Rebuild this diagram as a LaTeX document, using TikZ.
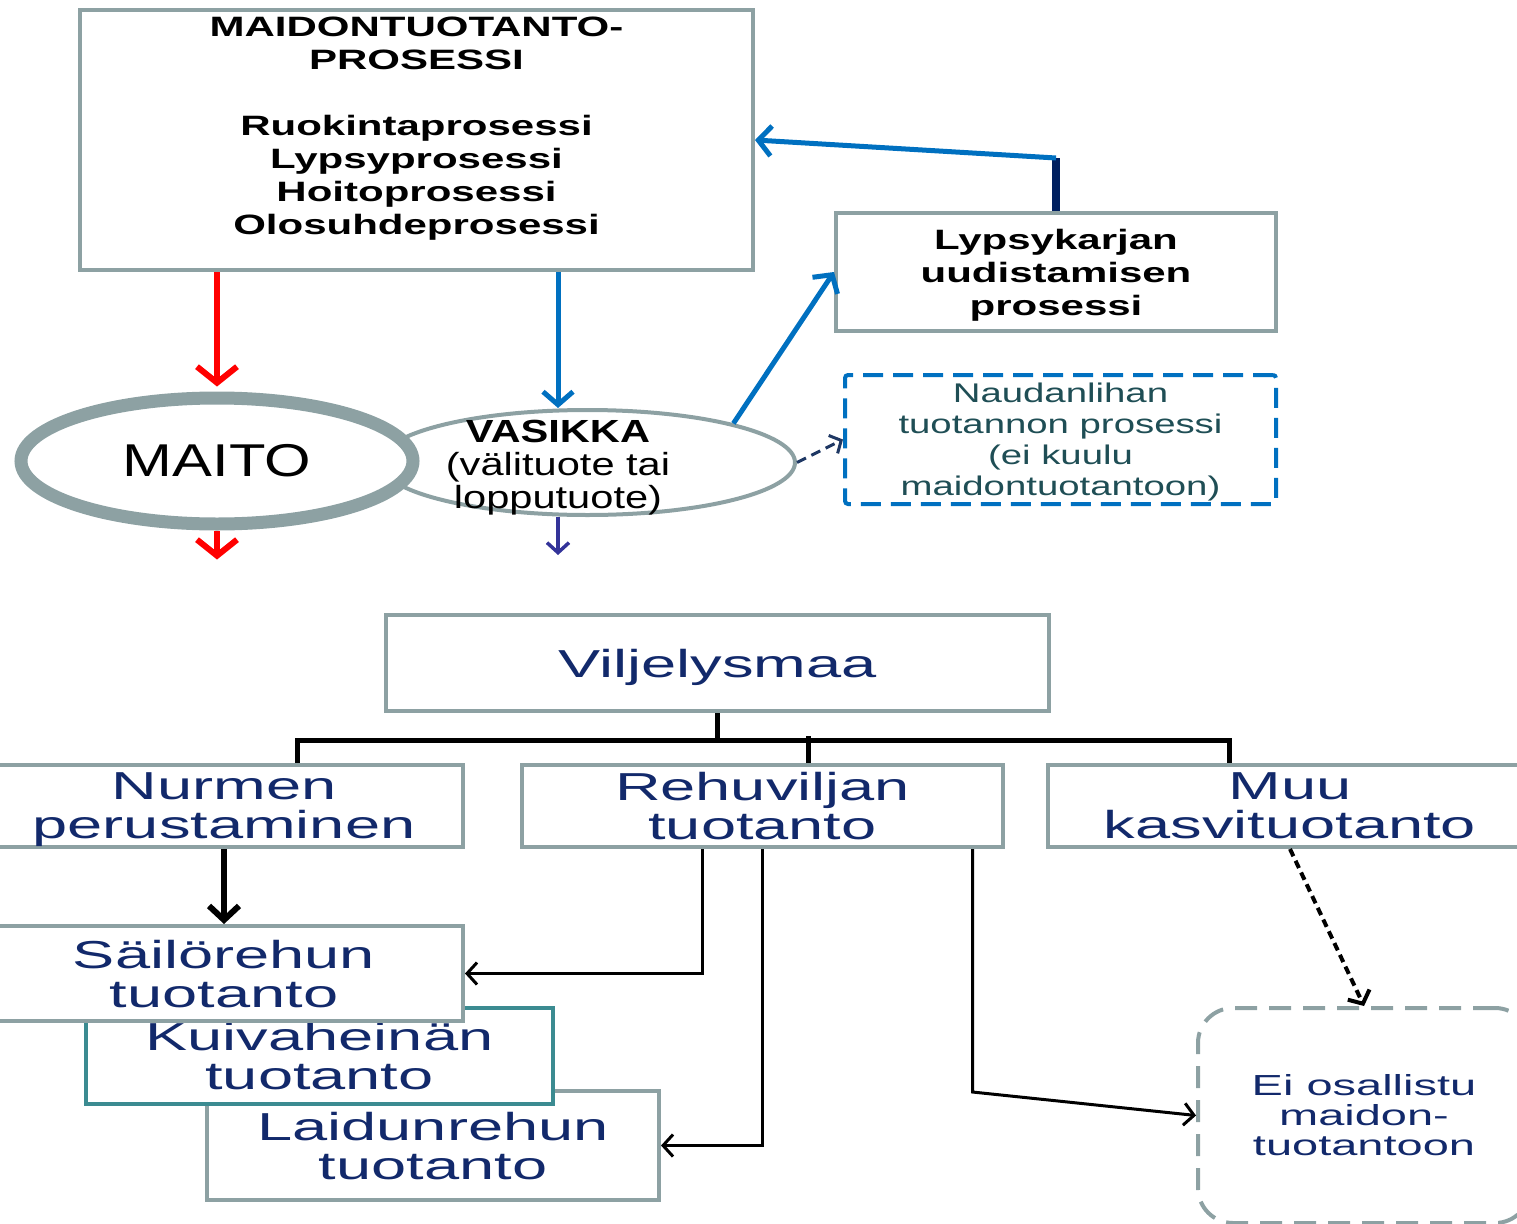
\documentclass[tikz,border=0pt]{standalone}
\usepackage{fontspec}
\setmainfont{Liberation Sans}
\newfontfamily\wideA{Liberation Sans}[FakeStretch=1.5]
\newfontfamily\wideB{Liberation Sans}[FakeStretch=1.3]
\newfontfamily\wideC{Liberation Sans}[FakeStretch=1.42]
\newfontfamily\wideD{Liberation Sans}[FakeStretch=1.62]
\usepackage{tikz}
\usetikzlibrary{shapes.geometric, arrows.meta, positioning}
\definecolor{boxdraw}{HTML}{8DA1A3}
\definecolor{tealdraw}{HTML}{3B8B91}
\definecolor{redarr}{HTML}{FF0000}
\definecolor{bluearr}{HTML}{0070C0}
\definecolor{navyline}{HTML}{002060}
\definecolor{navytxt}{HTML}{12296B}
\definecolor{slatetxt}{HTML}{1F4E55}
\definecolor{purparr}{HTML}{333399}
\definecolor{dashnavy}{HTML}{1F3864}
\tikzset{
  blk/.style={rectangle, draw=boxdraw, fill=white, line width=4pt, align=center, inner sep=0pt, text depth=0pt},
  procbox/.style={blk, font=\wideA\bfseries\fontsize{28}{33}\selectfont},
  fieldbox/.style={blk, text=navytxt, font=\wideD\fontsize{39}{39}\selectfont},
  oval/.style={ellipse, draw=boxdraw, fill=white, align=center, inner sep=0pt},
  redline/.style={draw=redarr, line width=6pt, -{Straight Barb[length=16pt, width=40pt]}},
  blueline/.style={draw=bluearr, line width=5pt, -{Straight Barb[length=13pt, width=30pt]}},
  thinarr/.style={draw=black, line width=3pt, -{Straight Barb[length=10pt, width=22pt]}},
  tree/.style={draw=black, line width=5pt},
}

\begin{document}
\begin{tikzpicture}[x=1pt, y=-1pt]
  \useasboundingbox (0,0) rectangle (1517,1223);
  % upper part: dairy process
  \node[procbox, minimum width=673pt, minimum height=260pt] (maidon) at (416.5,140) {};
  \node[align=center, text depth=0pt, font=\wideA\bfseries\fontsize{28}{33}\selectfont] (maidontxt) at (416.5,126)
    {MAIDONTUOTANTO-\\PROSESSI\\[33pt]Ruokintaprosessi\\Lypsyprosessi\\Hoitoprosessi\\Olosuhdeprosessi};
  \node[procbox, minimum width=440pt, minimum height=118pt] (lyps) at (1056,272)
    {Lypsykarjan\\uudistamisen\\prosessi};
  \node[oval, line width=4pt, minimum width=415pt, minimum height=105pt] (vasik) at (587.5,462.5) {};
  \node[align=center, text depth=0pt, font=\wideB\fontsize{32}{33}\selectfont] (vasitxt) at (558,464)
    {\textbf{VASIKKA}\\(välituote tai\\lopputuote)};
  \node[oval, line width=13pt, minimum width=392pt, minimum height=126pt,
    font=\wideB\fontsize{46}{50}\selectfont] (maito) at (217,461) {MAITO};
  \node[rectangle, rounded corners=3pt, draw=bluearr, dash pattern=on 20pt off 10pt, line width=4pt,
    minimum width=431pt, minimum height=129pt, align=center, text depth=0pt, text=slatetxt,
    font=\wideC\fontsize{27}{31}\selectfont] (naud) at (1060.5,439.5)
    {Naudanlihan\\tuotannon prosessi\\(ei kuulu\\maidontuotantoon)};

  \draw[redline] (maidon.south -| maito.north) -- ([yshift=5pt]maito.north);
  \draw[redline] (maito.south) -- ++(0,29);
  \draw[blueline] (maidon.south -| vasitxt.north) -- (vasitxt.north |- vasik.north);
  \draw[blueline] (vasik.15) -- (lyps.west);
  \draw[draw=navyline, line width=8pt] (lyps.north) -- ++(0,-53) coordinate (lturn);
  \draw[blueline] (lturn) -- (maidon.east);
  \draw[draw=dashnavy, line width=3pt, dash pattern=on 10pt off 6pt,
    -{Straight Barb[length=9pt, width=20pt]}] (vasik.east) -- (naud.west);
  \draw[draw=purparr, line width=3.5pt, -{Straight Barb[length=10pt, width=22pt]}]
    (vasitxt.south |- vasik.south) -- ++(0,38);

  % lower part: field use
  \node[fieldbox, minimum width=663pt, minimum height=96pt] (vilj) at (717.5,663) {Viljelysmaa};
  \node[fieldbox, minimum width=478pt, minimum height=82pt] (nurmen) at (224,806) {Nurmen\\perustaminen};
  \node[fieldbox, minimum width=481pt, minimum height=82pt] (rehu) at (762.5,806) {Rehuviljan\\tuotanto};
  \node[fieldbox, minimum width=484pt, minimum height=82pt] (muu) at (1290,806) {Muu\\kasvituotanto};
  \node[fieldbox, minimum width=452pt, minimum height=109pt] (laidun) at (433,1145.5) {Laidunrehun\\tuotanto};
  \node[fieldbox, draw=tealdraw, minimum width=467pt, minimum height=96pt] (kuiva) at (319.5,1056) {Kuivaheinän\\tuotanto};
  \node[fieldbox, minimum width=478pt, minimum height=95pt] (sailo) at (224,973.5) {Säilörehun\\tuotanto};
  \node[rectangle, rounded corners=35pt, draw=boxdraw, dash pattern=on 22pt off 12pt, line width=4pt,
    minimum width=332pt, minimum height=215pt, align=center, text=navytxt,
    font=\wideD\fontsize{29}{30}\selectfont] (eiosa) at (1364,1115.5) {Ei osallistu\\maidon-\\tuotantoon};

  \draw[tree] (vilj.south) -- ++(0,27) coordinate (hub);
  \draw[tree] ([xshift=73pt]nurmen.north) |- (hub) -| ([xshift=-61pt]muu.north);
  \draw[tree] ([xshift=46pt]rehu.north) -- ++(0,-27);
  \draw[black, line width=6pt, -{Straight Barb[length=14pt, width=30pt]}] (nurmen.south) -- (sailo.north);
  \draw[thinarr] ([xshift=-60pt]rehu.south) |- (sailo.east);
  \draw[thinarr] (rehu.south) |- (laidun.east);
  \draw[thinarr] ([xshift=210pt]rehu.south) -- ++(0,243) -- (eiosa.west);
  \draw[black, line width=4pt, dash pattern=on 8pt off 5pt,
    -{Straight Barb[length=10pt, width=24pt]}] (muu.south) -- (eiosa.north);
\end{tikzpicture}
\end{document}
